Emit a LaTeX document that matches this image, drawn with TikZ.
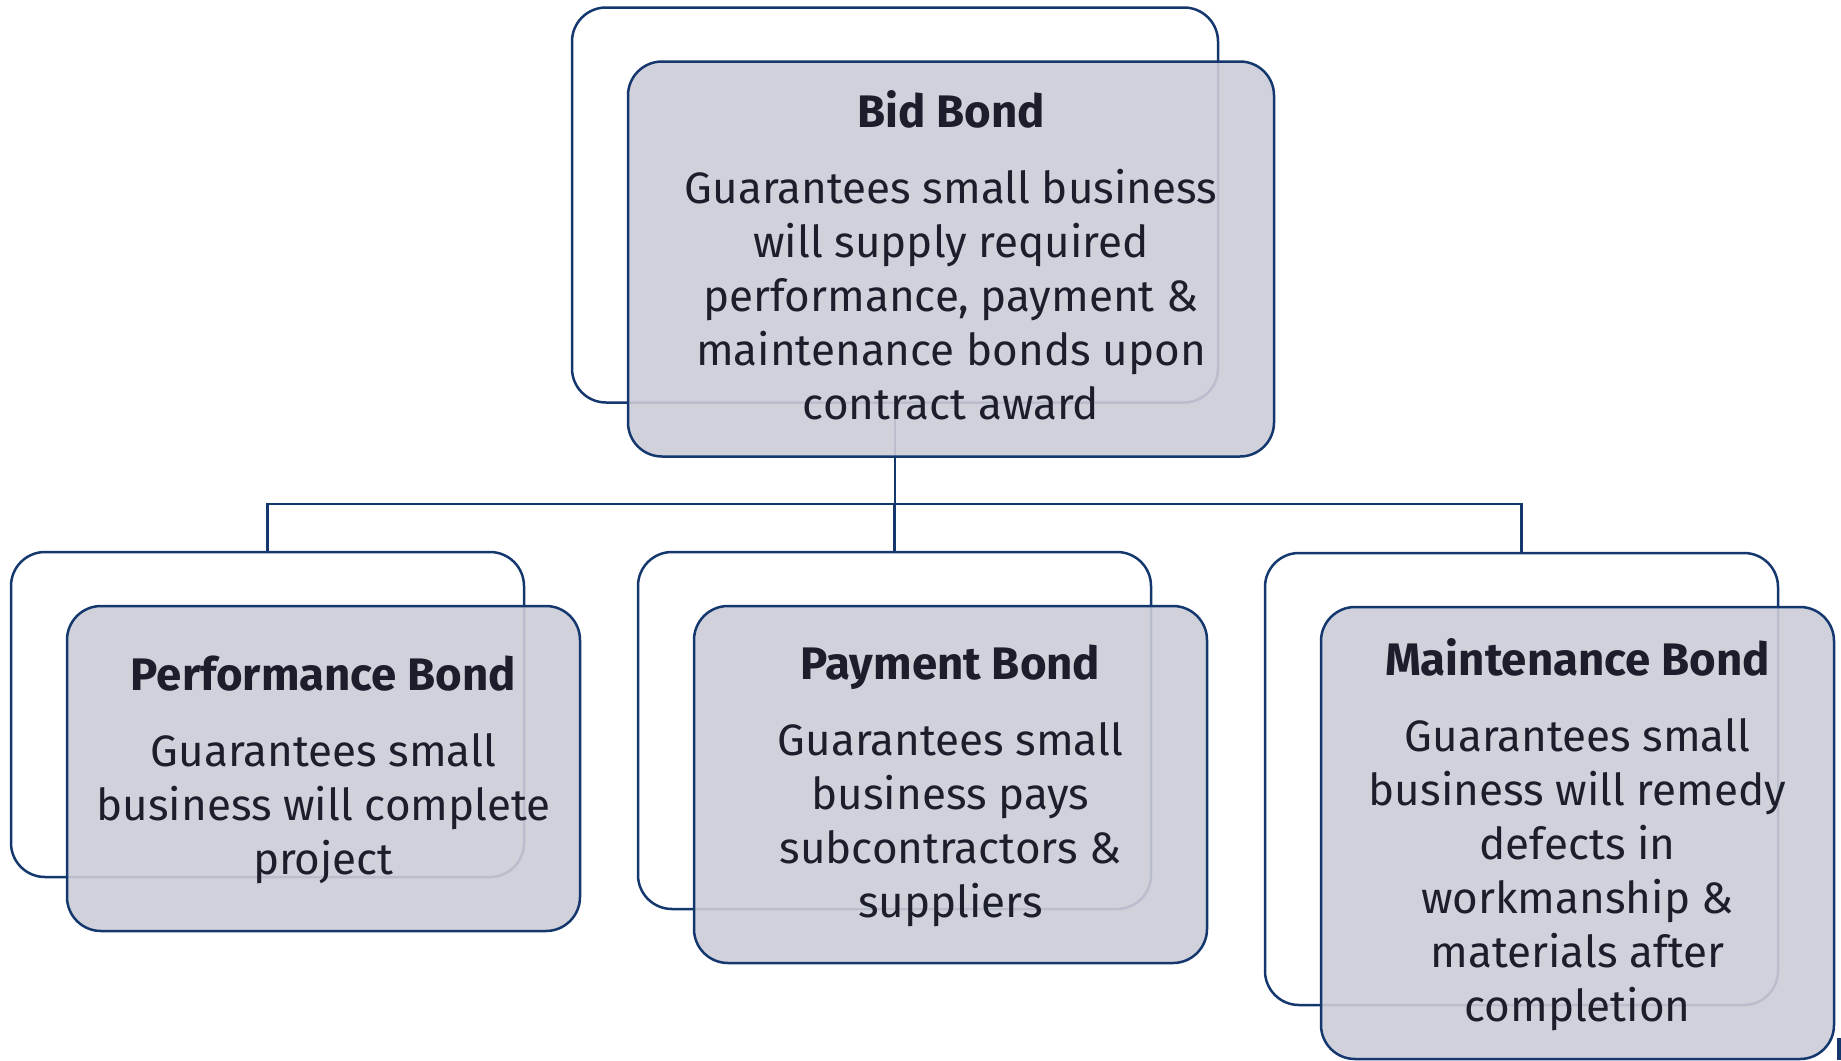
\documentclass[tikz,border=0pt]{standalone}
\usepackage{fontspec}
\setmainfont{Fira Sans}
\usepackage{tikz}
\usetikzlibrary{positioning}
\definecolor{bondline}{HTML}{14386E}
\definecolor{bondfill}{HTML}{CBCCD7}
\definecolor{bondtext}{HTML}{1C1E2B}

\begin{document}
\begin{tikzpicture}[x=0.5pt,y=-0.5pt,
	backbox/.style={draw=bondline,line width=1.25pt,rounded corners=17pt,inner sep=0pt},
	frontbox/.style={draw=bondline,line width=1.25pt,rounded corners=17pt,fill=bondfill,fill opacity=0.9,text opacity=1,
		text=bondtext,align=center,inner sep=0pt,text depth=3.5pt,font=\fontsize{22}{27}\selectfont},
	link/.style={draw=bondline,line width=1.25pt}]

	\useasboundingbox (0,0) rectangle (1841,1060);

	% boxes behind
	\node[backbox,minimum width=323pt,minimum height=197.5pt] (bidB) at (895,205) {};
	\node[backbox,minimum width=256.5pt,minimum height=162.5pt] (perfB) at (267.5,714.5) {};
	\node[backbox,minimum width=256.5pt,minimum height=178.5pt] (payB) at (894.5,730.5) {};
	\node[backbox,minimum width=256.5pt,minimum height=226pt] (maintB) at (1521.5,779) {};

	% tree
	\coordinate (bus) at (895,504);
	\draw[link] (bidB.south) -- (bus);
	\draw[link] (bus) -| (perfB.north);
	\draw[link] (bus) -| (payB.north);
	\draw[link] (bus) -| (maintB.north);

	% boxes in front
	\node[frontbox,minimum width=323pt,minimum height=197.5pt] (bid) at ([xshift=28pt,yshift=-27pt]bidB.center)
		{{\fontsize{22.8}{27}\bfseries Bid Bond}\\[11pt]
		Guarantees small business\\ will supply required\\ performance, payment \&\\ maintenance bonds upon\\ contract award};
	\node[frontbox,minimum width=256.5pt,minimum height=162.5pt] (perf) at ([xshift=28pt,yshift=-27pt]perfB.center)
		{{\fontsize{22.8}{27}\bfseries Performance Bond}\\[11pt]
		Guarantees small\\ business will complete\\ project};
	\node[frontbox,minimum width=256.5pt,minimum height=178.5pt] (pay) at ([xshift=28pt,yshift=-27pt]payB.center)
		{{\fontsize{22.8}{27}\bfseries Payment Bond}\\[11pt]
		Guarantees small\\ business pays\\ subcontractors \&\\ suppliers};
	\node[frontbox,minimum width=256.5pt,minimum height=226pt] (maint) at ([xshift=28pt,yshift=-27pt]maintB.center)
		{{\fontsize{22.8}{27}\bfseries Maintenance Bond}\\[11pt]
		Guarantees small\\ business will remedy\\ defects in\\ workmanship \&\\ materials after\\ completion};

	\fill[bondline] (1837,1038) rectangle (1841,1060);
\end{tikzpicture}
\end{document}
